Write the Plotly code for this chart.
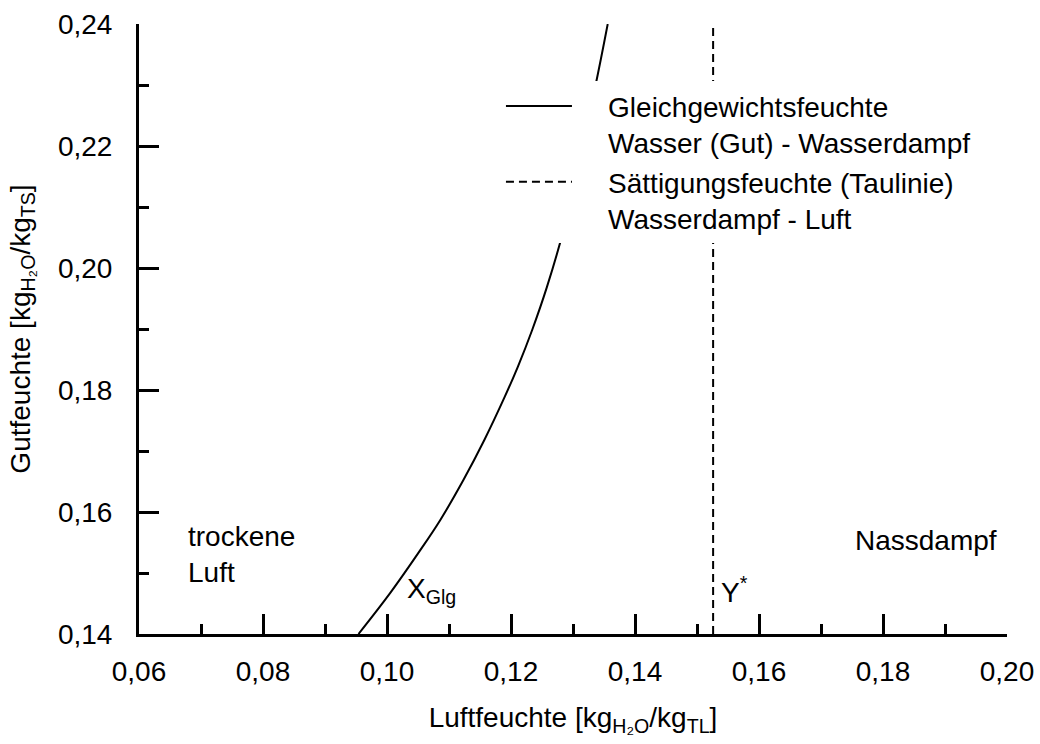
import plotly.graph_objects as go

# Equilibrium moisture curve (Gleichgewichtsfeuchte)
glg_x = [0.0954, 0.1005, 0.1052, 0.1086, 0.1123, 0.1157, 0.1190, 0.1211, 0.1234, 0.1258, 0.1284, 0.1335, 0.1356]
glg_y = [0.1400, 0.1467, 0.1535, 0.1587, 0.1652, 0.1718, 0.1789, 0.1838, 0.1898, 0.1969, 0.2060, 0.2293, 0.2400]

# Saturation moisture (Taulinie)
sat_x = [0.1526, 0.1526]
sat_y = [0.14, 0.24]

x_ticks = [0.06, 0.08, 0.10, 0.12, 0.14, 0.16, 0.18, 0.20]
y_ticks = [0.14, 0.16, 0.18, 0.20, 0.22, 0.24]

FONT = "Liberation Sans, Arial, sans-serif"
FS_TICK = 28
FS_TEXT = 28
PAD = "\u00a0" * 4

fig = go.Figure()
fig.add_trace(go.Scatter(
    x=glg_x, y=glg_y, mode="lines", line=dict(color="black", width=2, shape="spline", smoothing=1),
    name=PAD + "Gleichgewichtsfeuchte<br>" + PAD + "Wasser (Gut) - Wasserdampf", hoverinfo="skip"))
fig.add_trace(go.Scatter(
    x=sat_x, y=sat_y, mode="lines", line=dict(color="black", width=2, dash="8px,5px"),
    name=PAD + "Sättigungsfeuchte (Taulinie)<br>" + PAD + "Wasserdampf - Luft", hoverinfo="skip"))

annots = [
    dict(x=0.0676, y=0.1530, text="trockene<br>Luft", xanchor="left", yanchor="middle", align="left"),
    dict(x=0.1752, y=0.1554, text="Nassdampf", xanchor="left", yanchor="middle"),
    dict(x=0.1029, y=0.1472, text="X<sub>Glg</sub>", xanchor="left", yanchor="middle"),
    dict(x=0.1535, y=0.1472, text="Y<sup>*</sup>", xanchor="left", yanchor="middle"),
]
for a in annots:
    fig.add_annotation(**a, xref="x", yref="y", showarrow=False,
                       font=dict(family=FONT, size=FS_TEXT, color="black"))

axis_common = dict(
    showline=True, linecolor="black", linewidth=3, mirror=False,
    showgrid=False, zeroline=False, automargin=False,
    ticks="inside", ticklen=20, tickwidth=3, tickcolor="black",
    tickfont=dict(family=FONT, size=FS_TICK, color="black"),
    tickformat=".2f",
    minor=dict(ticks="inside", ticklen=10, tickwidth=3, tickcolor="black", dtick=0.01, showgrid=False),
)

fig.update_layout(
    width=1040, height=744,
    margin=dict(l=139, r=33, t=24, b=110),
    paper_bgcolor="white", plot_bgcolor="white",
    separators=",.",
    font=dict(family=FONT, size=FS_TEXT, color="black"),
    xaxis=dict(**axis_common, range=[0.06, 0.20], tickvals=x_ticks,
               title=dict(text="Luftfeuchte [kg<sub>H₂O</sub>/kg<sub>TL</sub>]",
                          font=dict(family=FONT, size=FS_TEXT), standoff=22),
               ticklabelstandoff=10),
    yaxis=dict(**axis_common, range=[0.14, 0.24], tickvals=y_ticks,
               title=dict(text="Gutfeuchte [kg<sub>H₂O</sub>/kg<sub>TS</sub>]",
                          font=dict(family=FONT, size=FS_TEXT), standoff=20),
               ticklabelstandoff=18),
    showlegend=True,
    legend=dict(x=0.417, y=0.906, xanchor="left", yanchor="top",
                bgcolor="white", borderwidth=0, valign="top",
                itemwidth=66, tracegroupgap=0,
                font=dict(family=FONT, size=FS_TEXT, color="black")),
)

fig.write_html("out.html")
